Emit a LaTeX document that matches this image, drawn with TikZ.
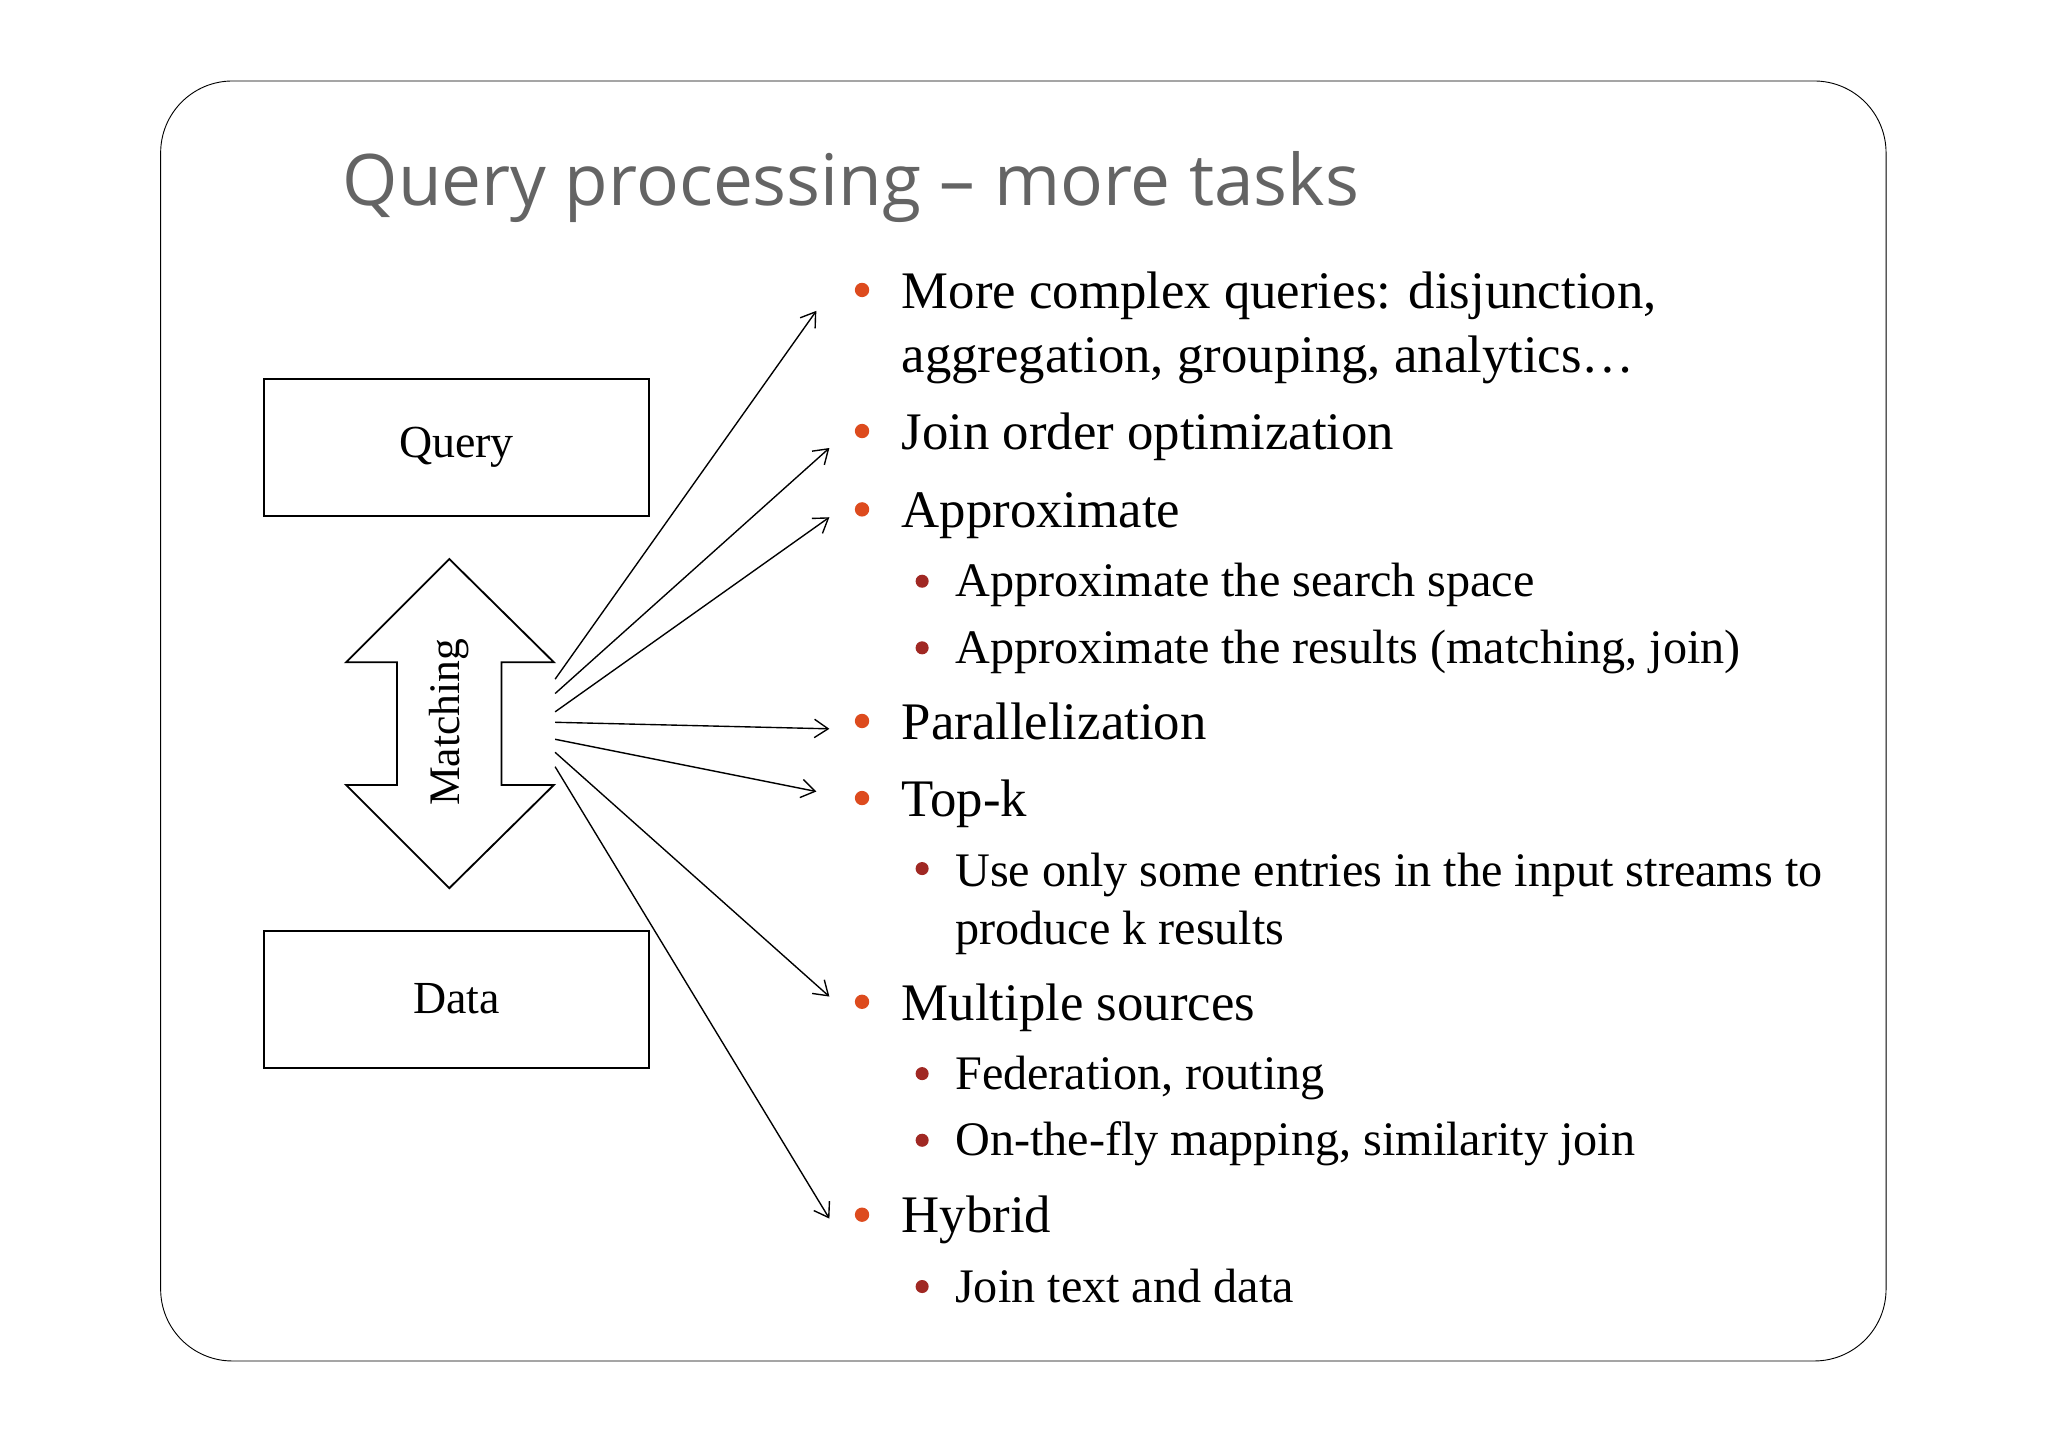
\documentclass[tikz,border=0pt]{standalone}
\usepackage{fontspec}
\setmainfont{Liberation Serif}
\newfontfamily\titlefont{Open Sans}
\usetikzlibrary{arrows.meta}
\definecolor{bulA}{RGB}{221,75,30}
\definecolor{bulB}{RGB}{160,40,35}
\definecolor{titg}{RGB}{100,100,100}
\begin{document}
\begin{tikzpicture}[x=0.02cm,y=-0.02cm,
  box/.style={draw,thick,minimum width=5.9cm,minimum height=2.1cm,font=\fontsize{20}{24}\selectfont},
  arr/.style={-{Straight Barb[length=6pt,width=8pt]},semithick},
  l1/.style={anchor=base west,font=\fontsize{23}{28}\selectfont,inner sep=0},
  l2/.style={anchor=base west,font=\fontsize{21}{25}\selectfont,inner sep=0}]
\useasboundingbox (0,0) rectangle (1568,1108);
\fill[white] (0,0) rectangle (1568,1108);
\draw[thin,rounded corners=1.1cm] (123,62) rectangle (1444,1042);
\node[anchor=base west,inner sep=0,text=titg,font=\titlefont\fontsize{31}{36}\selectfont] (title) at (262,157) {Query processing – more tasks};
\node[box] (query) at (349.5,342.5) {Query};
\node[box] (data) at (349.5,765) {Data};
\draw[thick] (344,428) -- (424,507) -- (384,507) -- (384,601) -- (424,601) -- (344,680) -- (265,601) -- (304,601) -- (304,507) -- (265,507) -- cycle;
\node[rotate=90,font=\fontsize{19}{22}\selectfont] (match) at (344,553) {Matching};
% bullets
\foreach \y in {222,330,390,552,611,767,930} \fill[bulA] (660,\y) circle (5.5);
\foreach \y in {445,496,665,822,873,985} \fill[bulB] (706,\y) circle (5);
\node[l1] (b1) at (690,236) {More complex queries: disjunction,};
\node[l1] (b1b) at (690,285) {aggregation, grouping, analytics\ldots};
\node[l1] (b2) at (690,344) {Join order optimization};
\node[l1] (b3) at (690,404) {Approximate};
\node[l2] (s1) at (731,457) {Approximate the search space};
\node[l2] (s2) at (731,508) {Approximate the results (matching, join)};
\node[l1] (b4) at (690,566) {Parallelization};
\node[l1] (b5) at (690,625) {Top-k};
\node[l2] (s3) at (731,679) {Use only some entries in the input streams to};
\node[l2] (s3b) at (731,723) {produce k results};
\node[l1] (b6) at (690,781) {Multiple sources};
\node[l2] (s4) at (731,834) {Federation, routing};
\node[l2] (s5) at (731,885) {On-the-fly mapping, similarity join};
\node[l1] (b7) at (690,944) {Hybrid};
\node[l2] (s6) at (731,997) {Join text and data};
% arrows
\coordinate (o1) at (425,520); \coordinate (t1) at (625,238);
\coordinate (o2) at (425,531); \coordinate (t2) at (635,343);
\coordinate (o3) at (425,545); \coordinate (t3) at (635,396);
\coordinate (o4) at (425,553); \coordinate (t4) at (635,558);
\coordinate (o5) at (425,566); \coordinate (t5) at (625,606);
\coordinate (o6) at (425,576); \coordinate (t6) at (635,763);
\coordinate (o7) at (425,587); \coordinate (t7) at (635,933);
\foreach \i in {1,...,7} \draw[arr] (o\i) -- (t\i);
\end{tikzpicture}
\end{document}
